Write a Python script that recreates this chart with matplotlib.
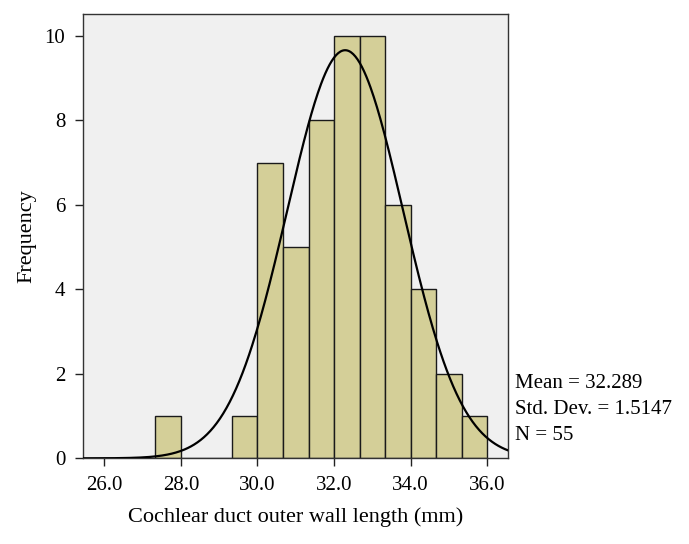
import numpy as np
import matplotlib
matplotlib.use("Agg")
from matplotlib import pyplot as plt

# histogram bins (edges) and counts
binEdges = [27.333, 28.0, 28.667, 29.333, 30.0, 30.667, 31.333, 32.0,
            32.667, 33.333, 34.0, 34.667, 35.333, 36.0]
counts = [1, 0, 0, 1, 7, 5, 8, 10, 10, 6, 4, 2, 1]
xTicks = [26.0, 28.0, 30.0, 32.0, 34.0, 36.0]
yTicks = [0, 2, 4, 6, 8, 10]
meanVal = 32.289
stdVal = 1.5147
nVal = 55

plt.rcParams['font.family'] = ['Liberation Serif', 'DejaVu Serif']

fig = plt.figure(figsize=(6.89, 5.44), dpi=100)
ax = fig.add_axes([0.120, 0.1575, 0.6177, 0.8168])
ax.set_facecolor('#f0f0f0')

widths = np.diff(binEdges)
ax.bar(binEdges[:-1], counts, width=widths, align='edge',
       color='#d4cf98', edgecolor='#1a1a1a', linewidth=1.0, zorder=2)

# fitted normal curve scaled to counts
xs = np.linspace(25.4, 36.6, 400)
binW = binEdges[1] - binEdges[0]
ys = nVal * binW / (stdVal * np.sqrt(2 * np.pi)) * np.exp(-0.5 * ((xs - meanVal) / stdVal) ** 2)
ax.plot(xs, ys, color='black', linewidth=1.6, zorder=3)

ax.set_xlim(25.436, 36.548)
ax.set_ylim(0, 10.52)
ax.set_xticks(xTicks)
ax.set_xticklabels(['%.1f' % t for t in xTicks])
ax.set_yticks(yTicks)
ax.tick_params(direction='out', length=5.5, width=1.0, labelsize=15, color='#222222')
ax.tick_params(axis='x', pad=7)
ax.tick_params(axis='y', pad=7)
for s in ax.spines.values():
    s.set_color('#333333')
    s.set_linewidth(1.0)

ax.set_xlabel('Cochlear duct outer wall length (mm)', fontsize=16, labelpad=9)
ax.set_ylabel('Frequency', fontsize=16, labelpad=6)

statsText = 'Mean = %.3f\nStd. Dev. = %.4f\nN = %d' % (meanVal, stdVal, nVal)
fig.text(515 / 689, 1 - 374 / 544, statsText, fontsize=15, va='top', ha='left',
         linespacing=1.5)

fig.savefig('out.png', dpi=100)
